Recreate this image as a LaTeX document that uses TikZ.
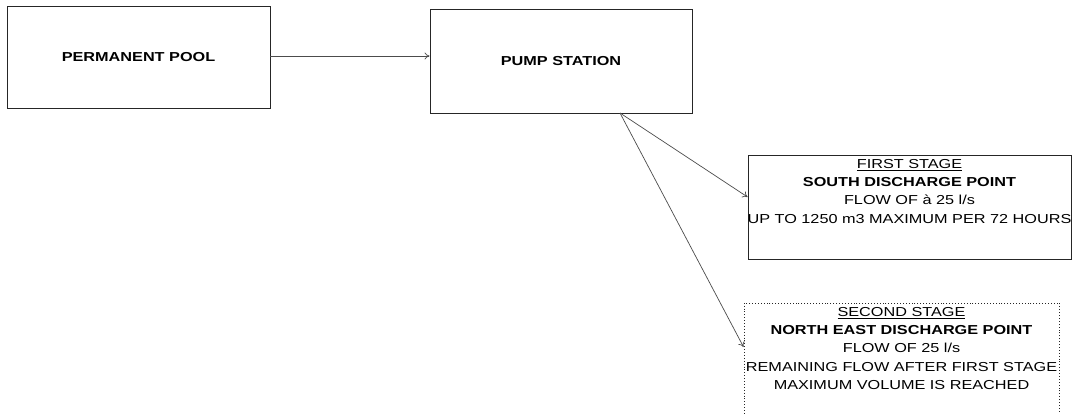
\documentclass[tikz,border=0pt]{standalone}
\usepackage{fontspec}
\setmainfont[FakeStretch=1.25]{Liberation Sans}
\usetikzlibrary{arrows.meta}
\tikzset{
  boxsolid/.style={draw=black!85, line width=0.9pt, inner sep=0pt},
  boxdot/.style={draw=black!85, line width=0.9pt, dotted},
  boxtxt/.style={align=center, anchor=north, inner sep=0pt, font=\fontsize{13}{18.3}\selectfont},
  conn/.style={draw=black!70, line width=0.7pt, -{To[length=5pt,width=7pt]}},
}
\begin{document}
\begin{tikzpicture}[x=1pt,y=-1pt]
\useasboundingbox (0,0) rectangle (1075,414);
\fill[white] (0,0) rectangle (1075,414);
\clip (0,0) rectangle (1075,414);
% boxes
\node[boxsolid, minimum width=263pt, minimum height=102pt] (pool) at (138.5,57)
  {\raisebox{-3pt}{\fontsize{13}{14}\selectfont\bfseries PERMANENT POOL}};
\node[boxsolid, minimum width=262pt, minimum height=104pt] (pump) at (561,61)
  {\fontsize{13}{14}\selectfont\bfseries PUMP STATION};
\node[boxsolid, minimum width=323pt, minimum height=104pt] (first) at (909.5,207) {};
\node[boxtxt] (firsttxt) at (909.5,159)
  {\underline{FIRST STAGE}\\ \textbf{SOUTH DISCHARGE POINT}\\ FLOW OF à 25 l/s\\ UP TO 1250 m3 MAXIMUM PER 72 HOURS};
\node[boxdot, minimum width=315pt, minimum height=130pt, inner sep=0pt] (second) at (901.5,368) {};
\node[boxtxt] (secondtxt) at (901.5,307)
  {\underline{SECOND STAGE}\\ \textbf{NORTH EAST DISCHARGE POINT}\\ FLOW OF 25 l/s\\ REMAINING FLOW AFTER FIRST STAGE\\ MAXIMUM VOLUME IS REACHED};
% connectors
\coordinate (pumpout) at (620,113);
\draw[conn] (pool.east |- 0,56) -- (pump.west |- 0,56);
\draw[conn] (pumpout) -- ([yshift=10pt]first.west);
\draw[conn] (pumpout) -- ([yshift=21pt]second.west);
\end{tikzpicture}
\end{document}
